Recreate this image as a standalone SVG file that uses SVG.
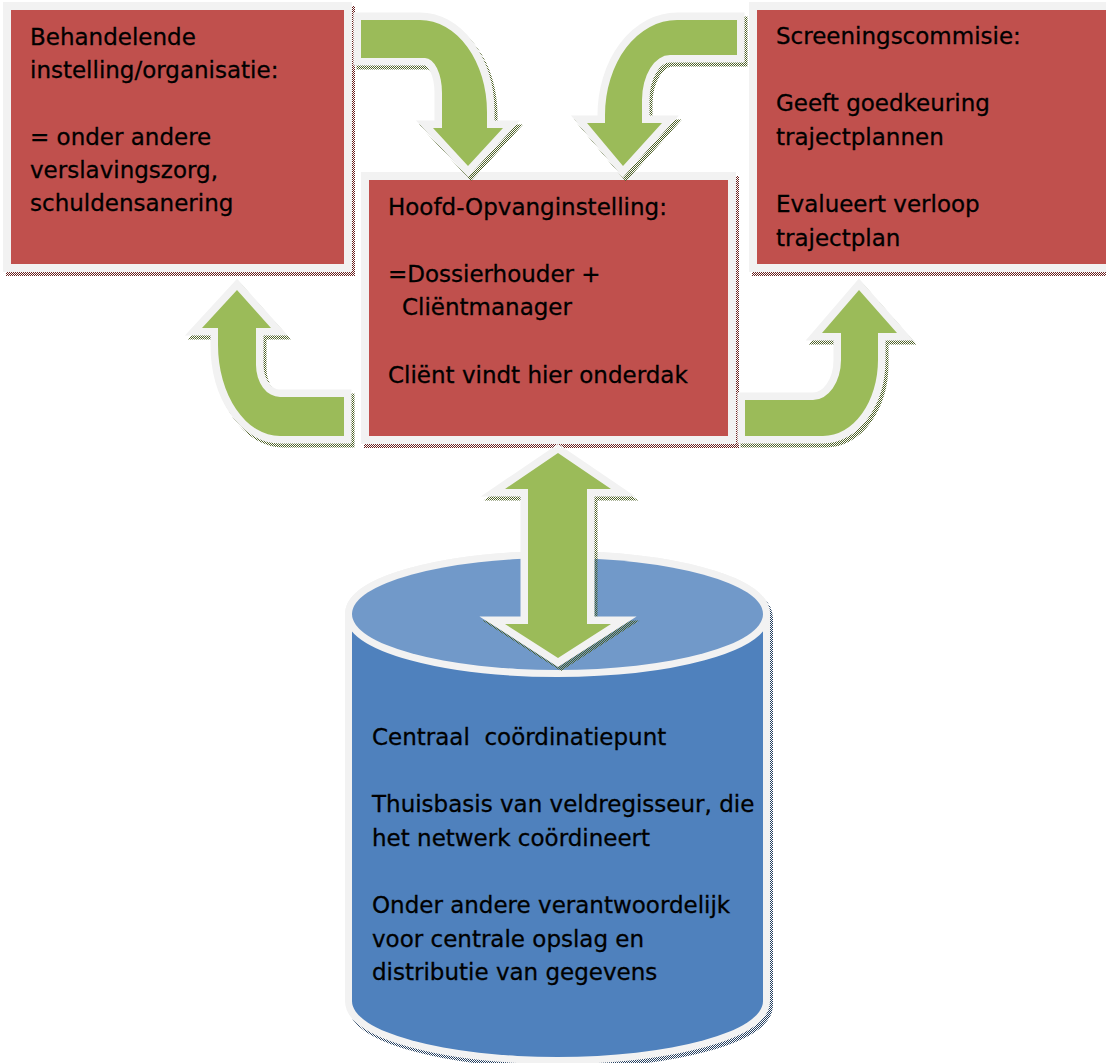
<svg xmlns="http://www.w3.org/2000/svg" xmlns:xlink="http://www.w3.org/1999/xlink" width="1106" height="1063" viewBox="0 0 1106 1063">
<style>
.t{font-family:"DejaVu Sans","Liberation Sans",sans-serif;font-size:23px;fill:#000;stroke:#000;stroke-width:0.3;white-space:pre}
.box{fill:#c0504d;stroke:#f2f2f2;stroke-width:8}
.arr{fill:#9bbb59;stroke:#f2f2f2;stroke-width:15;stroke-linejoin:miter;paint-order:stroke}
.cyl{fill:#4f81bd;stroke:#f2f2f2;stroke-width:14;paint-order:stroke}
.cyltop{fill:#7199c9;stroke:#f2f2f2;stroke-width:14;paint-order:stroke}
.shR{fill:url(#chkR);stroke:url(#chkR);stroke-width:8}
.shG{fill:url(#chkG);stroke:url(#chkG);stroke-width:15;stroke-linejoin:miter}
.shB{fill:url(#chkB);stroke:url(#chkB);stroke-width:14}
</style>
<defs>
<pattern id="chkR" width="2" height="2" patternUnits="userSpaceOnUse"><rect width="1" height="1" fill="#6b2220"/><rect x="1" y="1" width="1" height="1" fill="#6b2220"/></pattern>
<pattern id="chkG" width="2" height="2" patternUnits="userSpaceOnUse"><rect width="1" height="1" fill="#4f6228"/><rect x="1" y="1" width="1" height="1" fill="#4f6228"/></pattern>
<pattern id="chkB" width="2" height="2" patternUnits="userSpaceOnUse"><rect width="1" height="1" fill="#243f60"/><rect x="1" y="1" width="1" height="1" fill="#243f60"/></pattern>
<rect id="bxL" x="7" y="6" width="341" height="262"/>
<rect id="bxC" x="365" y="176" width="367" height="264"/>
<rect id="bxR" x="753" y="6" width="360" height="262"/>
<path id="cylBody" d="M352,614 A205.5,56 0 0 1 763,614 V1001 A205.5,56 0 0 1 352,1001 Z"/>
<path id="a1" d="M361,20 H420 A67,92 0 0 1 487,112 V128 H503 L468,166 L433,128 H442 V93 A17,35 0 0 0 425,58 H361 Z"/>
<path id="a2" d="M737,20 H677 A72,95 0 0 0 605,115 V123 H587 L623,166 L662,123 H642 V100 A28,45 0 0 1 670,55 H737 Z"/>
<path id="a3" d="M344,397 H280 A24,32 0 0 1 256,365 V328 H271 L237,290 L202,328 H218 V345 A62,91 0 0 0 280,436 H344 Z"/>
<path id="a4" d="M745,400 H813 A28,40 0 0 0 841,360 V333 H822 L859,290 L897,333 H878 V360 A55,76 0 0 1 823,436 H745 Z"/>
<path id="a5" d="M558,453 L611,489 H587 V624 H611 L558,658 L505,624 H528 V489 H505 Z"/>
</defs>

<g id="node-behandelende">
<use xlink:href="#bxL" class="shR" transform="translate(3,4)"/>
<use xlink:href="#bxL" class="box"/>
<text class="t"><tspan x="30" y="45">Behandelende</tspan><tspan x="30" y="78">instelling/organisatie:</tspan><tspan x="30" y="145">= onder andere</tspan><tspan x="30" y="178">verslavingszorg,</tspan><tspan x="30" y="211">schuldensanering</tspan></text>
</g>

<g id="node-hoofdopvang">
<use xlink:href="#bxC" class="shR" transform="translate(3,4)"/>
<use xlink:href="#bxC" class="box"/>
<text class="t"><tspan x="388" y="215">Hoofd-Opvanginstelling:</tspan><tspan x="388" y="282">=Dossierhouder +</tspan><tspan x="402" y="315">Cliëntmanager</tspan><tspan x="388" y="383">Cliënt vindt hier onderdak</tspan></text>
</g>

<g id="node-screening">
<use xlink:href="#bxR" class="shR" transform="translate(3,4)"/>
<use xlink:href="#bxR" class="box"/>
<text class="t"><tspan x="776" y="44">Screeningscommisie:</tspan><tspan x="776" y="111">Geeft goedkeuring</tspan><tspan x="776" y="145">trajectplannen</tspan><tspan x="776" y="212">Evalueert verloop</tspan><tspan x="776" y="246">trajectplan</tspan></text>
</g>

<g id="node-centraal">
<use xlink:href="#cylBody" class="shB" transform="translate(3,4)"/>
<use xlink:href="#cylBody" class="cyl"/>
<ellipse class="cyltop" cx="557.5" cy="614" rx="205.5" ry="56"/>
<text class="t"><tspan x="372" y="745">Centraal  coördinatiepunt</tspan><tspan x="372" y="812">Thuisbasis van veldregisseur, die</tspan><tspan x="372" y="846">het netwerk coördineert</tspan><tspan x="372" y="913">Onder andere verantwoordelijk</tspan><tspan x="372" y="947">voor centrale opslag en</tspan><tspan x="372" y="980">distributie van gegevens</tspan></text>
</g>

<g id="connectors">
<use xlink:href="#a1" class="shG" transform="translate(3,4)"/>
<use xlink:href="#a1" class="arr"/>
<use xlink:href="#a2" class="shG" transform="translate(3,4)"/>
<use xlink:href="#a2" class="arr"/>
<use xlink:href="#a3" class="shG" transform="translate(3,4)"/>
<use xlink:href="#a3" class="arr"/>
<use xlink:href="#a4" class="shG" transform="translate(3,4)"/>
<use xlink:href="#a4" class="arr"/>
<use xlink:href="#a5" class="shG" transform="translate(3,4)"/>
<use xlink:href="#a5" class="arr"/>
</g>
</svg>
